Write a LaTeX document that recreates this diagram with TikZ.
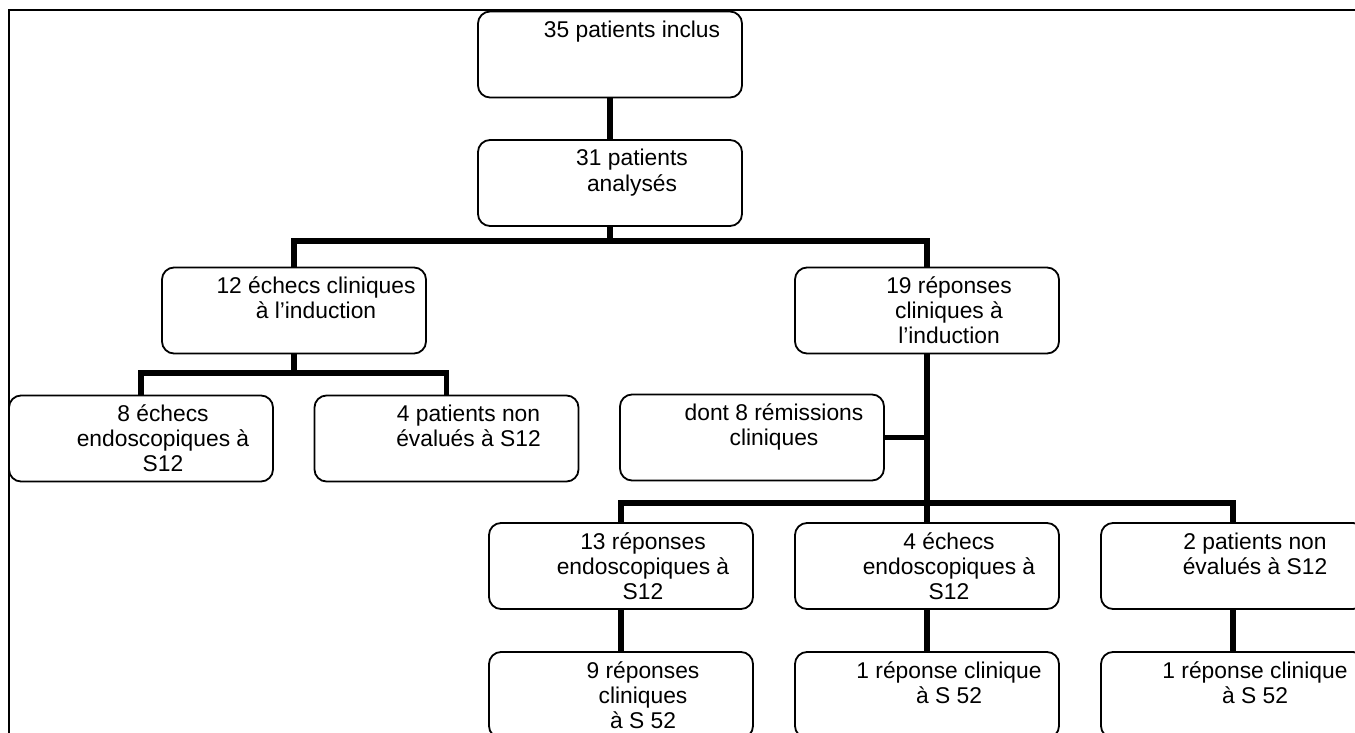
\documentclass[tikz,border=0pt]{standalone}
\usepackage{fontspec}
\setmainfont{Liberation Sans}
\newcommand\boxtext[1]{\parbox[c][43pt][t]{132pt}{\centering\leftskip=22pt plus 1fil\rule{0pt}{13pt}#1}}
\begin{document}
\begin{tikzpicture}[x=0.5pt, y=-0.5pt,
  pbox/.style={draw, rounded corners=6pt, line width=0.9pt, inner sep=0pt, font=\fontsize{11.4}{12.5}\selectfont},
  link/.style={line width=2.6pt}]
\useasboundingbox (0,0) rectangle (1355,733);
\draw[line width=1pt] (9,733) -- (9,10) -- (1355,10);
\node[pbox] (b35) at (610,54.5) {\boxtext{35 patients inclus}};
\node[pbox] (b31) at (610,183) {\boxtext{31 patients\\analysés}};
\node[pbox] (b12) at (294,310.5) {\boxtext{12 échecs cliniques\\à l’induction}};
\node[pbox] (b19) at (927,310.5) {\boxtext{19 réponses\\cliniques à\\l’induction}};
\node[pbox] (b8) at (141,438.5) {\boxtext{8 échecs\\endoscopiques à\\S12}};
\node[pbox] (b4) at (446.5,438.5) {\boxtext{4 patients non\\évalués à S12}};
\node[pbox] (bdont) at (752,437.5) {\boxtext{dont 8 rémissions\\cliniques}};
\node[pbox] (b13) at (621,566) {\boxtext{13 réponses\\endoscopiques à\\S12}};
\node[pbox] (b4e) at (927,566) {\boxtext{4 échecs\\endoscopiques à\\S12}};
\node[pbox] (b2) at (1233,566) {\boxtext{2 patients non\\évalués à S12}};
\node[pbox] (b9) at (621,695) {\boxtext{9 réponses\\cliniques\\à S 52}};
\node[pbox] (b1a) at (927,695) {\boxtext{1 réponse clinique\\à S 52}};
\node[pbox] (b1b) at (1233,695) {\boxtext{1 réponse clinique\\à S 52}};
\coordinate (j1) at (610,241);
\coordinate (j2) at (294,373);
\coordinate (j3) at (927,503);
\draw[link] (b31.south) -- (j1);
\draw[link] (b12.north) |- (j1) -| (b19.north);
\draw[link] (b12.south) -- (j2);
\draw[link] (b8.north) |- (j2) -| (b4.north);
\draw[link] (b19.south) -- (j3);
\draw[link] (bdont.east) -- (bdont.east -| j3);
\draw[link] (b13.north) |- (j3) -| (b2.north);
\foreach \a/\b in {b35/b31,j3/b4e,b13/b9,b4e/b1a,b2/b1b} \draw[link] (\a) -- (\b.north);
\end{tikzpicture}
\end{document}
